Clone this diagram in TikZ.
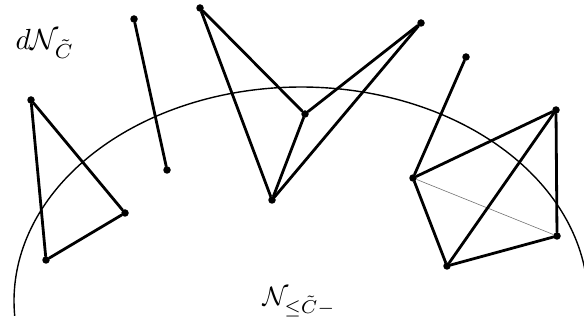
\documentclass[tikz,border=0pt]{standalone}
\usepackage{amsmath,amssymb}
\tikzset{dot/.style={circle,fill=black,inner sep=0pt,minimum size=7.5pt},
seg/.style={line width=2.8pt,line cap=round,line join=round},
faint/.style={line width=0.6pt,draw=black!55},
rim/.style={line width=1.4pt},
lab/.style={scale=2.8,inner sep=0pt}}

\begin{document}
\begin{tikzpicture}[x=1pt,y=-1pt]
\useasboundingbox (0,0) rectangle (584,331);
% the boundary arc
\draw[rim] plot[domain=184:0,samples=150] ({301+287*cos(\x)},{301-214*sin(\x)});
% vertices
\node[dot](a1) at (31,100){};\node[dot](a2) at (125,213){};\node[dot](a3) at (46,260){};
\node[dot](b1) at (134,19){};\node[dot](b2) at (167,170){};
\node[dot](c1) at (200,8){};\node[dot](c2) at (272,200){};\node[dot](c3) at (305,114){};\node[dot](c4) at (421,23){};
\node[dot](d0) at (466,57){};\node[dot](d1) at (413,178){};\node[dot](d2) at (556,110){};\node[dot](d3) at (557,236){};\node[dot](d4) at (447,266){};
% edges
\draw[seg](a1)--(a2);\draw[seg](a2)--(a3);\draw[seg](a3)--(a1);
\draw[seg](b1)--(b2);
\draw[seg](c1)--(c3);\draw[seg](c1)--(c2);\draw[seg](c3)--(c2);\draw[seg](c3)--(c4);\draw[seg](c2)--(c4);
\draw[faint](d1)--(d3);
\draw[seg](d0)--(d1);\draw[seg](d1)--(d2);\draw[seg](d1)--(d4);\draw[seg](d4)--(d3);\draw[seg](d3)--(d2);\draw[seg](d4)--(d2);
% labels
\node[lab,scale=1.04,anchor=base west](top) at (15,50){$d\mathcal{N}_{\tilde{C}}$};
\node[lab,scale=0.95,anchor=base west](bot) at (262,305){$\mathcal{N}_{\leq\tilde{C}-}$};
\end{tikzpicture}
\end{document}
